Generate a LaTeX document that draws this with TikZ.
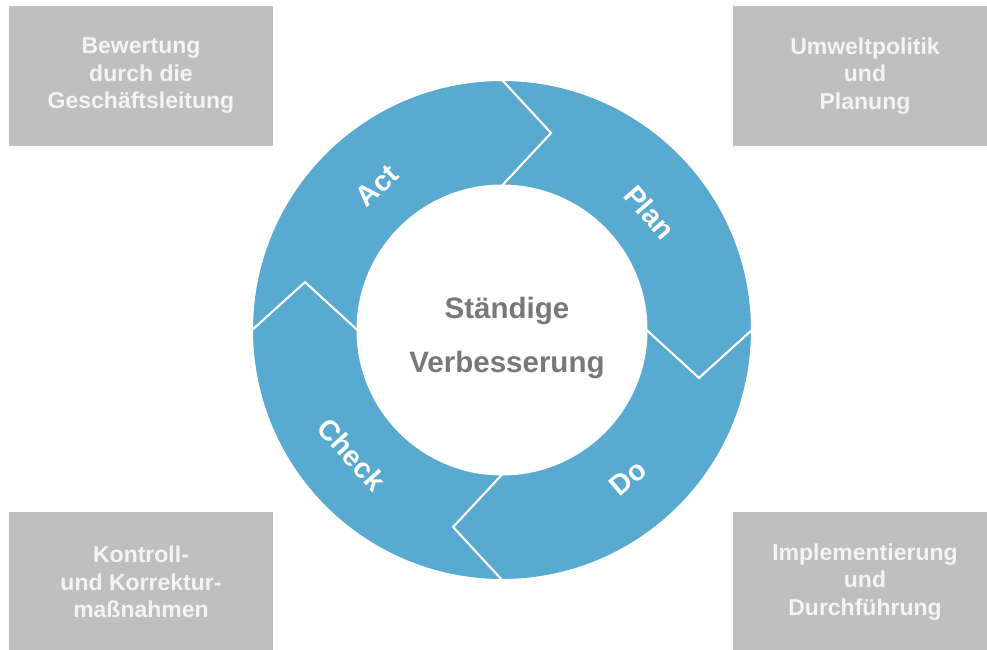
\documentclass[tikz,border=0pt]{standalone}
\usepackage{fontspec}
\setmainfont{Liberation Sans}
\usepackage{xcolor}
\usepackage{tikz}
\usetikzlibrary{positioning}

\definecolor{ringblue}{HTML}{59AAD0}
\definecolor{boxgray}{HTML}{BFBFBF}
\definecolor{boxtext}{HTML}{F4F4F4}
\definecolor{centregray}{HTML}{787878}

\begin{document}
\begin{tikzpicture}[x=1pt,y=1pt,
    segment/.style={fill=ringblue,draw=white,line width=2pt,line join=miter},
    phase/.style={text=white,inner sep=0pt,font=\bfseries\fontsize{28.5}{28.5}\selectfont},
    corner/.style={fill=boxgray,text=boxtext,align=center,inner sep=0pt,
      minimum width=264pt,minimum height=140pt,font=\bfseries\fontsize{23}{27.5}\selectfont}]
    \useasboundingbox (-502,-319) rectangle (485,330);
    % chevron tips between the phases
    \coordinate (tip_n) at ([shift={(0:49)}]90:197);
    \coordinate (tip_e) at ([shift={(-90:48)}]0:197);
    \coordinate (tip_s) at ([shift={(180:49)}]-90:197);
    \coordinate (tip_w) at ([shift={(90:48)}]180:197);
    % ring segments
    \draw[segment] (90:250) arc[start angle=90,end angle=0,radius=250] -- (tip_e)
      -- (0:144.5) arc[start angle=0,end angle=90,radius=144.5] -- (tip_n) -- cycle;
    \draw[segment] (0:250) arc[start angle=0,end angle=-90,radius=250] -- (tip_s)
      -- (-90:144.5) arc[start angle=-90,end angle=0,radius=144.5] -- (tip_e) -- cycle;
    \draw[segment] (-90:250) arc[start angle=-90,end angle=-180,radius=250] -- (tip_w)
      -- (-180:144.5) arc[start angle=-180,end angle=-90,radius=144.5] -- (tip_s) -- cycle;
    \draw[segment] (180:250) arc[start angle=180,end angle=90,radius=250] -- (tip_n)
      -- (90:144.5) arc[start angle=90,end angle=180,radius=144.5] -- (tip_w) -- cycle;
    % phase labels
    \node[phase,rotate=-49] (l_plan)  at (38.5:189)  {Plan};
    \node[phase,rotate=40]  (l_do)    at (-49.6:194) {Do};
    \node[phase,rotate=-48] (l_check) at (219.6:195) {Check};
    \node[phase,rotate=43]  (l_act)   at (130.8:191) {Act};
    % centre
    \node[text=centregray,align=center,font=\bfseries\fontsize{29.5}{54}\selectfont]
      (centre) at (5,-7.5) {Ständige\\Verbesserung};
    % corner boxes
    \node[corner] (b_act)   at (-361,254)  {Bewertung\\durch die\\Geschäftsleitung};
    \node[corner] (b_plan)  at (363,254)   {Umweltpolitik\\und\\Planung};
    \node[corner] (b_do)    at (363,-252)  {Implementierung\\und\\Durchführung};
    \node[corner] (b_check) at (-361,-252) {Kontroll-\\und Korrektur-\\maßnahmen};
\end{tikzpicture}
\end{document}
